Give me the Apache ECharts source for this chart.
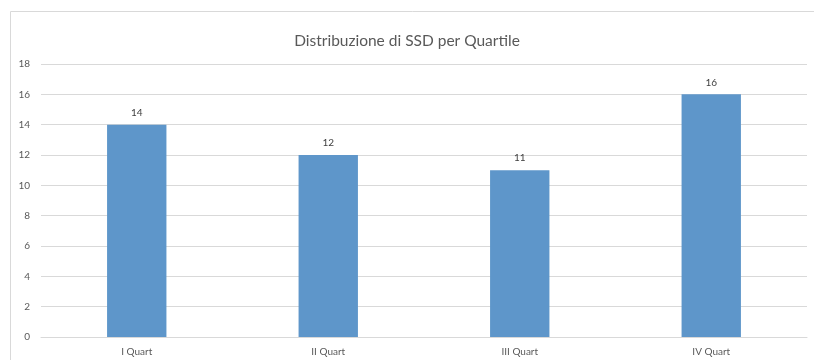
<!DOCTYPE html>
<html>
<head>
<meta charset="utf-8">
<script src="https://cdn.jsdelivr.net/npm/echarts@6/dist/echarts.min.js"></script>
<style>
  html, body { margin: 0; padding: 0; background: #fff; }
  #chart { width: 814px; height: 360px; }
</style>
</head>
<body>
<div id="chart"></div>
<script>
var categories = ["I Quart", "II Quart", "III Quart", "IV Quart"]
var ssdValues = [14, 12, 11, 16]
var yTicks = [0, 2, 4, 6, 8, 10, 12, 14, 16, 18]

var chart = echarts.init(document.getElementById("chart"))
var option = {
    animation: false,
    title: {
        text: "Distribuzione di SSD per Quartile",
        left: "center",
        top: 28,
        textStyle: {
            fontFamily: "Lato",
            fontSize: 15.5,
            fontWeight: "normal",
            color: "#595959"
        }
    },
    // outer chart frame
    graphic: [{
        type: "rect",
        shape: { x: 10.5, y: 11.5, width: 820, height: 360 },
        style: { fill: "none", stroke: "#d9d9d9", lineWidth: 1 },
        silent: true
    }],
    grid: {
        left: 41,
        right: 7,
        top: 64,
        bottom: 23
    },
    xAxis: {
        type: "category",
        data: categories,
        axisLine: { lineStyle: { color: "#d9d9d9" } },
        axisTick: { show: false },
        axisLabel: {
            fontFamily: "Lato",
            fontSize: 10,
            color: "#595959",
            margin: 10
        }
    },
    yAxis: {
        type: "value",
        min: yTicks[0],
        max: yTicks[yTicks.length - 1],
        interval: 2,
        axisLine: { show: false },
        axisTick: { show: false },
        splitLine: { lineStyle: { color: "#d9d9d9" } },
        axisLabel: {
            fontFamily: "Lato",
            fontSize: 10,
            color: "#595959",
            margin: 11
        }
    },
    series: [{
        type: "bar",
        data: ssdValues,
        barWidth: "31%",
        itemStyle: { color: "#5e96ca" },
        label: {
            show: true,
            position: "top",
            distance: 7,
            fontFamily: "Lato",
            fontSize: 10,
            color: "#404040"
        }
    }]
}
chart.setOption(option)
</script>
</body>
</html>
